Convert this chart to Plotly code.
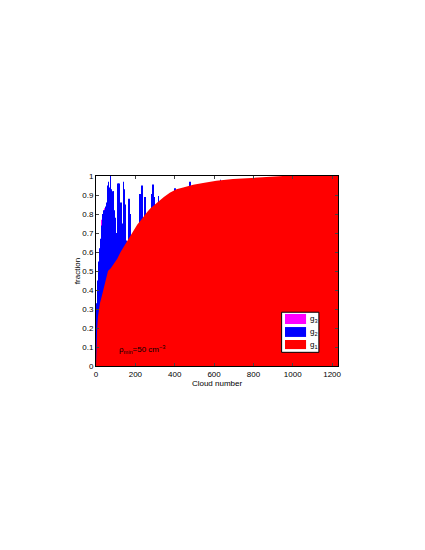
import plotly.graph_objects as go

# g1 fraction (sorted clouds)
red_cloud = [0, 1, 3, 6, 10, 14, 20, 30, 41, 52, 61, 75, 91, 108, 125, 142, 159, 176,
             193, 210, 226, 243, 260, 277, 294, 310, 328, 345, 375, 409, 443, 494, 544,
             612, 696, 781, 865, 950, 1230]
red_frac = [0.0, 0.05, 0.12, 0.2, 0.26, 0.30, 0.33, 0.37, 0.42, 0.46, 0.50, 0.515, 0.537,
            0.565, 0.60, 0.63, 0.66, 0.69, 0.72, 0.745, 0.765, 0.79, 0.81, 0.83, 0.845,
            0.86, 0.875, 0.89, 0.912, 0.93, 0.94, 0.954, 0.963, 0.975, 0.984, 0.99,
            0.996, 1.0, 1.0]

# g1+g2 spikes
blue_cloud = [5, 8, 11, 13, 16, 19, 22, 25, 28, 31, 34, 37, 40, 43, 46, 49, 52, 55, 58,
              61, 64, 67, 70, 73, 76, 79, 82, 85, 88, 91, 94, 97, 100, 104, 110, 114,
              118, 122, 128, 132, 139, 143, 147, 152, 169, 175, 200, 225, 233, 250, 282,
              291, 296, 318, 402, 478, 633]
blue_frac = [0.33, 0.45, 0.40, 0.55, 0.54, 0.62, 0.67, 0.60, 0.68, 0.74, 0.70, 0.80, 0.82,
             0.78, 0.82, 0.84, 0.72, 0.86, 0.80, 0.95, 0.97, 0.90, 0.94, 1.0, 0.88, 0.93,
             0.70, 0.92, 0.92, 0.82, 0.76, 0.65, 0.78, 0.70, 0.96, 0.96, 0.96, 0.62, 0.86,
             0.75, 0.97, 0.93, 0.85, 0.66, 0.88, 0.80, 0.70, 0.905, 0.95, 0.89, 0.905,
             0.955, 0.89, 0.895, 0.935, 0.97, 0.98]

# g1+g2+g3
mag_cloud = [31, 45]
mag_frac = [0.77, 0.83]

legend_labels = ["g<sub>3</sub>", "g<sub>2</sub>", "g<sub>1</sub>"]
legend_colors = ["#ff00ff", "#0000ff", "#ff0000"]

font = dict(family="Liberation Sans, Arial", size=8, color="black")

fig = go.Figure()
fig.add_trace(go.Bar(x=mag_cloud, y=mag_frac, width=3, marker=dict(color="#ff00ff", line_width=0)))
fig.add_trace(go.Bar(x=blue_cloud, y=blue_frac, width=3, marker=dict(color="#0000ff", line_width=0)))
fig.add_trace(go.Scatter(x=red_cloud, y=red_frac, mode="lines", fill="tozeroy",
                         line=dict(color="#ff0000", width=0), fillcolor="#ff0000"))

# legend box drawn by hand (matlab-style wide swatches)
shapes = [dict(type="rect", xref="paper", yref="paper", x0=0.767, x1=0.921, y0=0.072, y1=0.283,
               fillcolor="white", line=dict(color="black", width=1), layer="above")]
rows = [(0.221, 0.274), (0.153, 0.205), (0.089, 0.137)]
annotations = []
for (y0, y1), col, lab in zip(rows, legend_colors, legend_labels):
    shapes.append(dict(type="rect", xref="paper", yref="paper", x0=0.781, x1=0.868, y0=y0, y1=y1,
                       fillcolor=col, line=dict(width=0), layer="above"))
    annotations.append(dict(xref="paper", yref="paper", x=0.877, y=(y0 + y1) / 2, text=lab,
                            showarrow=False, xanchor="left", yanchor="middle", font=font))
annotations.append(dict(xref="paper", yref="paper", x=0.085, y=0.089,
                        text="ρ<sub>min</sub>=50 cm<sup>−3</sup>", showarrow=False,
                        xanchor="left", yanchor="middle", font=font))

# page body has an 8px margin, so the plot box is shifted by that
fig.update_layout(
    width=425, height=550,
    margin=dict(l=88, r=95, t=168, b=192),
    paper_bgcolor="white", plot_bgcolor="white",
    barmode="overlay", showlegend=False, font=font,
    shapes=shapes, annotations=annotations,
    xaxis=dict(range=[0, 1230], tick0=0, dtick=200, ticks="inside", ticklen=3,
               showline=True, linecolor="black", linewidth=1, mirror="ticks",
               showgrid=False, zeroline=False,
               title=dict(text="Cloud number", font=font, standoff=0)),
    yaxis=dict(range=[0, 1], tick0=0, dtick=0.1, ticks="inside", ticklen=3,
               showline=True, linecolor="black", linewidth=1, mirror="ticks",
               showgrid=False, zeroline=False,
               title=dict(text="fraction", font=font, standoff=0)),
)

fig.write_html("out.html")
